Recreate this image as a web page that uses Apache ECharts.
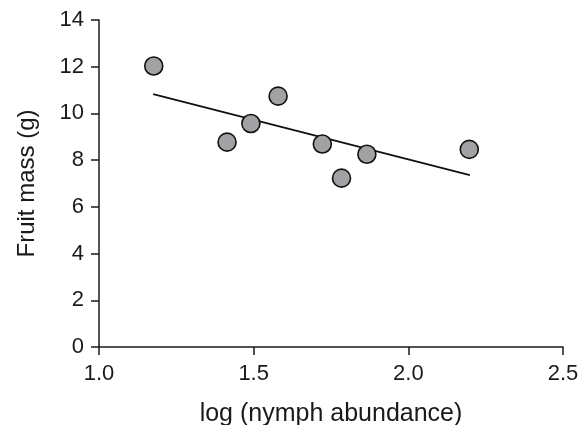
<!DOCTYPE html>
<html>
<head>
<meta charset="utf-8">
<script src="https://cdn.jsdelivr.net/npm/echarts@6/dist/echarts.min.js"></script>
<style>
  html, body { margin: 0; padding: 0; background: #fff; }
  #chart { width: 585px; height: 425px; }
</style>
</head>
<body>
<div id="chart"></div>
<script>
// values
const logAbundance = [1.177, 1.414, 1.491, 1.579, 1.722, 1.784, 1.866, 2.197];
const fruitMass = [12.03, 8.77, 9.57, 10.74, 8.69, 7.23, 8.25, 8.46];
const fitX = [1.175, 2.199];
const fitY = [10.83, 7.36];

const chart = echarts.init(document.getElementById("chart"));

const axisText = { color: "#1a1a1a", fontSize: 22, fontFamily: "Liberation Sans, Arial, sans-serif" };

chart.setOption({
  animation: false,
  // fixed plot box, labels may run to the edge
  grid: { left: 99, right: 22, top: 20, bottom: 78, outerBoundsMode: "none", containLabel: false },
  xAxis: {
    type: "value",
    min: 1.0, max: 2.5, interval: 0.5,
    name: "log (nymph abundance)",
    nameLocation: "middle",
    nameGap: 55,
    nameTextStyle: { ...axisText, fontSize: 25 },
    axisLine: { lineStyle: { color: "#1a1a1a", width: 1.5 } },
    axisTick: { length: 8, lineStyle: { color: "#1a1a1a", width: 1.5 } },
    axisLabel: { ...axisText, margin: 16, formatter: v => v.toFixed(1) },
    splitLine: { show: false }
  },
  yAxis: {
    type: "value",
    min: 0, max: 14, interval: 2,
    name: "Fruit mass (g)",
    nameLocation: "middle",
    nameGap: 60,
    nameTextStyle: { ...axisText, fontSize: 24 },
    axisLine: { show: true, lineStyle: { color: "#1a1a1a", width: 1.5 } },
    axisTick: { show: true, length: 8, lineStyle: { color: "#1a1a1a", width: 1.5 } },
    axisLabel: { ...axisText, margin: 15 },
    splitLine: { show: false }
  },
  series: [
    {
      type: "line",
      data: fitX.map((x, i) => [x, fitY[i]]),
      showSymbol: false,
      lineStyle: { color: "#111", width: 1.8 },
      z: 1
    },
    {
      type: "scatter",
      data: logAbundance.map((x, i) => [x, fruitMass[i]]),
      symbolSize: 18,
      itemStyle: { color: "#a2a2a4", borderColor: "#111", borderWidth: 1.6, opacity: 1 },
      z: 2
    }
  ]
});
</script>
</body>
</html>
